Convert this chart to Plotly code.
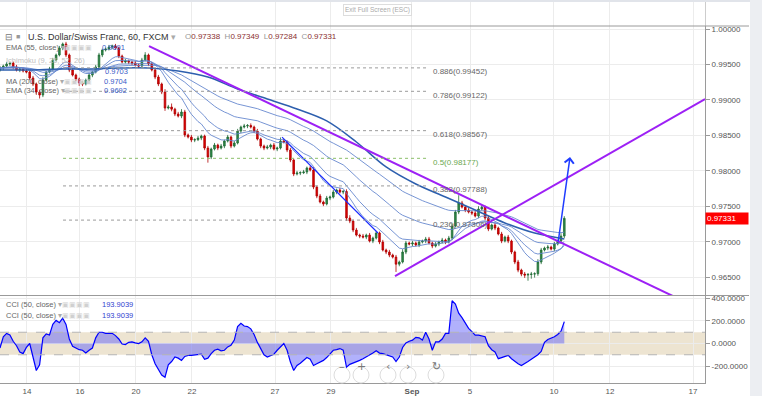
import plotly.graph_objects as go
import pandas as pd

# ---------------- data ----------------
# 3-hour candles, x unit = hourly bar index
CANDLE_HOURS = 3
first_open = 0.99420
closes = [
    0.99450, 0.99478, 0.99507, 0.99521, 0.99464, 0.99422, 0.99436, 0.99408, 0.99394, 0.99309,
    0.99225, 0.99112, 0.99070, 0.99281, 0.99394, 0.99436, 0.99563, 0.99634, 0.99732, 0.99789,
    0.99634, 0.99422, 0.99351, 0.99295, 0.99239, 0.99225, 0.99281, 0.99351, 0.99394, 0.99464,
    0.99634, 0.99704, 0.99718, 0.99746, 0.99760, 0.99732, 0.99619, 0.99535, 0.99549, 0.99535,
    0.99521, 0.99492, 0.99478, 0.99563, 0.99634, 0.99507, 0.99422, 0.99323, 0.99225, 0.99112,
    0.98886, 0.98900, 0.98870, 0.98802, 0.98773, 0.98830, 0.98506, 0.98477, 0.98435, 0.98440,
    0.98463, 0.98491, 0.98322, 0.98196, 0.98308, 0.98364, 0.98322, 0.98350, 0.98421, 0.98477,
    0.98350, 0.98393, 0.98562, 0.98618, 0.98632, 0.98640, 0.98618, 0.98562, 0.98449, 0.98350,
    0.98322, 0.98336, 0.98364, 0.98308, 0.98322, 0.98421, 0.98407, 0.98294, 0.98153, 0.97956,
    0.97970, 0.97975, 0.97984, 0.98041, 0.98012, 0.97772, 0.97645, 0.97561, 0.97533, 0.97617,
    0.97631, 0.97701, 0.97730, 0.97701, 0.97710, 0.97335, 0.97293, 0.97166, 0.97095, 0.97081,
    0.97067, 0.97095, 0.97011, 0.97053, 0.97124, 0.96997, 0.96884, 0.96856, 0.96813, 0.96785,
    0.96685, 0.96715, 0.96856, 0.96983, 0.96969, 0.96983, 0.96955, 0.96997, 0.97011, 0.97039,
    0.96983, 0.96940, 0.96969, 0.96997, 0.97025, 0.96997, 0.97053, 0.97222, 0.97420, 0.97547,
    0.97490, 0.97448, 0.97420, 0.97406, 0.97363, 0.97462, 0.97490, 0.97335, 0.97180, 0.97237,
    0.97194, 0.97110, 0.97011, 0.97067, 0.97011, 0.96856, 0.96715, 0.96601, 0.96545, 0.96531,
    0.96540, 0.96545, 0.96550, 0.96715, 0.96884, 0.96912, 0.96926, 0.96898, 0.96969, 0.97011,
    0.97081, 0.97331,
]
# wick lengths in pips above / below the candle body
wick_up = [
    3, 2, 3, 2, 2, 3, 2, 2, 3, 2, 3, 2, 3, 4, 2, 3, 3, 2, 3, 2,
    3, 2, 3, 2, 2, 3, 2, 3, 2, 3, 3, 2, 2, 3, 2, 3, 2, 2, 3, 2,
    2, 3, 2, 3, 4, 2, 3, 2, 3, 2, 4, 3, 5, 2, 3, 4, 3, 2, 3, 2,
    3, 2, 2, 3, 2, 3, 2, 3, 2, 3, 2, 3, 3, 2, 3, 2, 3, 2, 3, 2,
    2, 3, 2, 3, 2, 5, 3, 2, 3, 2, 3, 2, 3, 2, 3, 4, 2, 3, 2, 3,
    2, 3, 2, 3, 2, 3, 4, 2, 3, 2, 3, 2, 3, 2, 3, 2, 3, 2, 3, 2,
    3, 2, 4, 3, 2, 3, 2, 3, 2, 3, 3, 2, 3, 2, 3, 2, 3, 4, 3, 11,
    3, 2, 3, 2, 3, 4, 3, 2, 3, 2, 3, 2, 3, 2, 3, 2, 2, 3, 2, 3,
    2, 3, 2, 4, 3, 2, 3, 2, 3, 2, 4, 3,
]
wick_dn = [
    2, 3, 2, 3, 3, 2, 3, 2, 2, 3, 3, 4, 5, 3, 2, 2, 3, 2, 2, 3,
    3, 3, 2, 3, 4, 3, 2, 2, 3, 2, 2, 3, 2, 2, 3, 2, 3, 2, 2, 3,
    3, 2, 3, 2, 2, 3, 2, 3, 3, 3, 4, 2, 3, 3, 2, 3, 3, 2, 3, 3,
    2, 3, 3, 8, 3, 2, 3, 2, 3, 2, 3, 2, 2, 3, 2, 3, 2, 3, 2, 3,
    3, 2, 3, 2, 3, 2, 2, 3, 3, 3, 2, 3, 2, 3, 2, 3, 3, 2, 3, 2,
    3, 2, 3, 2, 3, 4, 3, 3, 2, 3, 2, 3, 2, 3, 2, 3, 2, 3, 3, 2,
    11, 3, 2, 3, 2, 3, 2, 3, 2, 3, 2, 3, 2, 3, 2, 3, 2, 3, 2, 3,
    2, 3, 2, 3, 2, 3, 2, 3, 3, 2, 3, 2, 3, 2, 3, 3, 3, 3, 3, 4,
    8, 6, 5, 3, 3, 2, 3, 2, 3, 2, 3, 3,
]
# CCI(50) per candle
cci = [
    -40, 60, 90, 75, 20, -20, -75, -90, -35, 0,
    -120, -240, -190, 50, 85, 75, 170, 205, 185, 225,
    170, 40, -25, -40, -55, -60, -85, -60, -40, 50,
    100, 100, 90, 90, 90, 70, 40, -5, -10, 10,
    15, 5, 0, 15, 50, 20, -100, -180, -225, -280,
    -300, -190, -160, -120, -130, -150, -115, -105, -105, -100,
    -95, -95, -140, -130, -90, -60, -50, -65, -60, -30,
    -15, 30, 150, 180, 155, 150, 130, 80, 10, -50,
    -100, -120, -105, -95, -60, -25, 0, -60, -165, -240,
    -195, -175, -150, -125, -140, -195, -180, -165, -150, -125,
    -95, -60, -55, -45, -60, -210, -185, -175, -165, -150,
    -135, -120, -105, -85, -65, -85, -90, -100, -110, -120,
    -160, -120, -35, 5, 20, 30, 55, 50, 30, 100,
    40, -60, 15, 15, 40, 90, 90, 380, 350, 270,
    230, 180, 135, 105, 75, 75, 70, 60, -20, -55,
    -75, -135, -125, -115, -105, -135, -160, -180, -195, -180,
    -160, -140, -120, -100, -70, 10, 35, 45, 60, 80,
    110, 193.9039,
]
# MA(200) read every 9th candle
ma200_step = 9
ma200 = [0.99422, 0.99422, 0.99436, 0.99436, 0.99450, 0.99450, 0.99408, 0.99323, 0.99154, 0.99013,
         0.98872, 0.98704, 0.98407, 0.98055, 0.97815, 0.97632, 0.97448, 0.97266, 0.97124, 0.97040]
ema_spans_hours = [34, 55, 110, 180]

# Fibonacci retracement
fib_ratios = ["0.886", "0.786", "0.618", "0.5", "0.382", "0.236"]
fib_prices = [0.99452, 0.99122, 0.98567, 0.98177, 0.97788, 0.97306]
fib_x = [57.3, 389.0]

# drawn trend lines (bar index, price)
down_line_x = [135.5, 611.8]
down_line_y = [0.99760, 0.96235]
up_line_x = [359.1, 640.9]
up_line_y = [0.96517, 0.99013]
blue_line_x = [256.4, 343.6]
blue_line_y = [0.98477, 0.97124]
arrow_from = (507.3, 0.96983)
arrow_to = (518.2, 0.98195)

# axes
x_tick_pos = [24.5, 72.7, 123.6, 174.5, 250.0, 300.9, 374.5, 427.3, 503.6, 554.5, 630.0]
x_tick_text = ["14", "16", "20", "22", "27", "29", "<b>Sep</b>", "5", "10", "12", "17"]
price_ticks = [0.965, 0.970, 0.975, 0.980, 0.985, 0.990, 0.995, 1.000]
cci_ticks = [400, 200, 0, -200]
last_price = 0.97331

# ---------------- build ----------------
n = len(closes)
if not (len(wick_up) == n and len(wick_dn) == n and len(cci) == n):
    raise ValueError((n, len(wick_up), len(wick_dn), len(cci)))
PIP = 0.0001
opens = [first_open] + closes[:-1]
highs = [max(o, c) + u * PIP for o, c, u in zip(opens, closes, wick_up)]
lows = [min(o, c) - d * PIP for o, c, d in zip(opens, closes, wick_dn)]
xs = [i * CANDLE_HOURS for i in range(n)]
ma_x = [i * ma200_step * CANDLE_HOURS for i in range(len(ma200))]

W, H = 762, 396
L, R, T, B = 0, 57, 2, 13
PW = W - L - R          # 705
PH = H - T - B          # 381
def px(xp):  # pixel -> paper x
    return (xp - L) / PW
def py(yp):  # pixel -> paper y
    return (H - B - yp) / PH

MAIN_BOTTOM = py(295)
CCI_TOP = py(296)

fig = go.Figure()

fig.add_trace(go.Candlestick(
    x=xs, open=opens, high=highs, low=lows, close=closes,
    increasing=dict(line=dict(color="#1f6b35", width=0.8), fillcolor="#2e8b4a"),
    decreasing=dict(line=dict(color="#b00000", width=0.8), fillcolor="#e00000"),
    whiskerwidth=0, xaxis="x", yaxis="y", showlegend=False, hoverinfo="skip"))

s = pd.Series(closes)
for span in ema_spans_hours:
    ema = s.ewm(span=span / CANDLE_HOURS, adjust=False).mean()
    fig.add_trace(go.Scatter(x=xs, y=ema.tolist(), mode="lines",
                             line=dict(color="rgba(95,130,205,0.85)", width=1),
                             xaxis="x", yaxis="y", showlegend=False, hoverinfo="skip"))
fig.add_trace(go.Scatter(x=ma_x, y=ma200, mode="lines", line=dict(color="#2d5fae", width=1.5, shape="spline"),
                         xaxis="x", yaxis="y", showlegend=False, hoverinfo="skip"))

PURPLE = "#9d20f5"
fig.add_trace(go.Scatter(x=down_line_x, y=down_line_y, mode="lines", line=dict(color=PURPLE, width=2),
                         xaxis="x", yaxis="y", showlegend=False, hoverinfo="skip"))
fig.add_trace(go.Scatter(x=up_line_x, y=up_line_y, mode="lines", line=dict(color=PURPLE, width=2),
                         xaxis="x", yaxis="y", showlegend=False, hoverinfo="skip"))
fig.add_trace(go.Scatter(x=blue_line_x, y=blue_line_y, mode="lines", line=dict(color="#1a2cff", width=1.2),
                         xaxis="x", yaxis="y", showlegend=False, hoverinfo="skip"))

# CCI
fig.add_trace(go.Scatter(x=xs, y=cci, mode="lines", fill="tozeroy",
                         fillcolor="rgba(100,100,250,0.5)", line=dict(color="#0000ff", width=1.2),
                         xaxis="x2", yaxis="y2", showlegend=False, hoverinfo="skip"))

shapes = []
annotations = []

# fib lines
for r, p in zip(fib_ratios, fib_prices):
    col = "#8bbf6a" if r == "0.5" else "#9a9a9a"
    shapes.append(dict(type="line", xref="x", yref="y", x0=fib_x[0], x1=fib_x[1], y0=p, y1=p,
                       line=dict(color=col, width=1, dash="dot")))
    annotations.append(dict(xref="x", yref="y", x=fib_x[1] + 3, y=p, text=f"{r}({p:.5f})",
                            showarrow=False, xanchor="left", yanchor="middle", yshift=-4,
                            font=dict(size=8, color="#6aa84f" if r == "0.5" else "#666",
                                      family="Liberation Sans, Arial")))

# CCI band
shapes.append(dict(type="rect", xref="paper", yref="y2", x0=0, x1=1, y0=-100, y1=100,
                   fillcolor="rgba(222,205,172,0.55)", line=dict(width=0), layer="below"))
for lv in (100, -100):
    shapes.append(dict(type="line", xref="paper", yref="y2", x0=0, x1=1, y0=lv, y1=lv,
                       line=dict(color="#b5b5b5", width=1, dash="dash")))

AXC = "#9a9a9a"
# pane separators / frame
shapes.append(dict(type="line", xref="paper", yref="paper", x0=0, x1=px(749), y0=py(295.5), y1=py(295.5),
                   line=dict(color=AXC, width=1)))
shapes.append(dict(type="rect", xref="paper", yref="paper", x0=px(705.5), x1=px(749), y0=py(26), y1=1,
                   fillcolor="white", line=dict(width=0), layer="above"))
shapes.append(dict(type="line", xref="paper", yref="paper", x0=0, x1=px(749), y0=py(26), y1=py(26),
                   line=dict(color=AXC, width=1)))
shapes.append(dict(type="rect", xref="paper", yref="paper", x0=px(0), x1=px(762), y0=1, y1=py(0),
                   fillcolor="#e1e4ea", line=dict(width=0)))
shapes.append(dict(type="rect", xref="paper", yref="paper", x0=px(750), x1=px(762), y0=py(396), y1=py(0),
                   fillcolor="#eceef2", line=dict(width=0)))

# navigation buttons
for cx, sym in [(342, "–"), (361, "+"), (388, "‹"), (408, "›"), (436, "↻")]:
    shapes.append(dict(type="circle", xref="paper", yref="paper", x0=px(cx - 8), x1=px(cx + 8),
                       y0=py(383), y1=py(367), fillcolor="rgba(255,255,255,0.9)",
                       line=dict(color="#dddddd", width=1)))
    annotations.append(dict(xref="paper", yref="paper", x=px(cx), y=py(375), text=sym, showarrow=False,
                            font=dict(size=11, color="#777", family="DejaVu Sans")))

# last price tag
annotations.append(dict(xref="paper", yref="y", x=1, y=last_price, text=f"{last_price:.5f}", showarrow=False,
                        xanchor="left", yanchor="middle", bgcolor="#ff0000", width=40, align="left",
                        borderpad=1, font=dict(size=8, color="white", family="Liberation Sans, Arial")))

# arrow
annotations.append(dict(xref="x", yref="y", axref="x", ayref="y", x=arrow_to[0], y=arrow_to[1],
                        ax=arrow_from[0], ay=arrow_from[1], text="", showarrow=True,
                        arrowhead=4, arrowsize=1.2, arrowwidth=1.5, arrowcolor="#1f3cff"))

FONT = "Liberation Sans, Arial"
def txt(xp, yp, text, size=7.5, color="#666"):
    annotations.append(dict(xref="paper", yref="paper", x=px(xp), y=py(yp), text=text, showarrow=False,
                            xanchor="left", yanchor="middle", font=dict(size=size, color=color, family=FONT)))

txt(3, 37, "⊟", size=9, color="#777")
txt(14, 37, "■", size=7, color="#999")
txt(26, 37, "U.S. Dollar/Swiss Franc, 60, FXCM <span style='color:#aaa'>▾</span>", size=9, color="#333")
ohlc = ("<span style='color:#999'>O</span><span style='color:#8b2f2f'>0.97338</span>  "
        "<span style='color:#999'>H</span><span style='color:#8b2f2f'>0.97349</span>  "
        "<span style='color:#999'>L</span><span style='color:#8b2f2f'>0.97284</span>  "
        "<span style='color:#999'>C</span><span style='color:#8b2f2f'>0.97331</span>")
txt(183, 37, ohlc, size=8)

ICONS = "<span style='color:#d0d0d0'>▣▣▣▣</span>"
VAL = "#3a5bc7"
txt(4, 48, "EMA (55, close) <span style='color:#aaa'>▾</span>")
txt(62, 48, ICONS, size=7)
txt(100, 48, "0.9691", color=VAL)
txt(4, 60, "Ichimoku (9, 26, 52, 26)", color="#c0c0c0")
txt(103, 71, "0.9703", color=VAL)
txt(4, 81, "MA (200, close) <span style='color:#aaa'>▾</span>")
txt(62, 81, ICONS, size=7)
txt(102, 81, "0.9704", color=VAL)
txt(4, 91, "EMA (34, close) <span style='color:#aaa'>▾</span>")
txt(62, 91, ICONS, size=7)
txt(102, 91, "0.9692", color=VAL)
for yy in (304, 315):
    txt(4, yy, "CCI (50, close) <span style='color:#aaa'>▾</span>")
    txt(60, yy, ICONS, size=7)
    txt(100, yy, "193.9039", color="#2f3fd0")

annotations.append(dict(xref="paper", yref="paper", x=px(377), y=py(4), text="Exit Full Screen (ESC)",
                        showarrow=False, font=dict(size=6.5, color="#aaa", family=FONT),
                        bgcolor="white", bordercolor="#dddddd", borderwidth=1, borderpad=1))

GRID = "#ececec"
TICKF = dict(size=8, color="#555", family=FONT)
fig.update_layout(
    width=W, height=H, margin=dict(l=L, r=R, t=T, b=B),
    paper_bgcolor="white", plot_bgcolor="white",
    shapes=shapes, annotations=annotations, showlegend=False,
    xaxis=dict(domain=[0, 1], anchor="y", range=[0, PW / 1.1], tickvals=x_tick_pos,
               showticklabels=False, showgrid=True, gridcolor=GRID, zeroline=False,
               rangeslider=dict(visible=False), ticks=""),
    xaxis2=dict(domain=[0, 1], anchor="y2", matches="x", tickvals=x_tick_pos, ticktext=x_tick_text,
                showgrid=True, gridcolor=GRID, zeroline=False, showline=True, linecolor=AXC,
                tickfont=TICKF, ticks="", ticklabelstandoff=0),
    yaxis=dict(domain=[MAIN_BOTTOM, 1], anchor="x", side="right", range=[0.96250, 1.00381],
               tickvals=price_ticks, tickformat=".5f", showgrid=True, gridcolor=GRID, zeroline=False,
               showline=True, linecolor=AXC, ticks="outside", ticklen=4, tickcolor=AXC, tickfont=TICKF),
    yaxis2=dict(domain=[0, CCI_TOP], anchor="x2", side="right", range=[-351, 422],
                tickvals=cci_ticks, ticktext=[f"{v:.4f}" for v in cci_ticks], showgrid=True, gridcolor=GRID,
                zeroline=False, showline=True, linecolor=AXC, ticks="outside", ticklen=4, tickcolor=AXC,
                tickfont=TICKF),
)

fig.write_html("out.html", config={"displayModeBar": False},
               post_script="document.body.style.margin='0px';")
